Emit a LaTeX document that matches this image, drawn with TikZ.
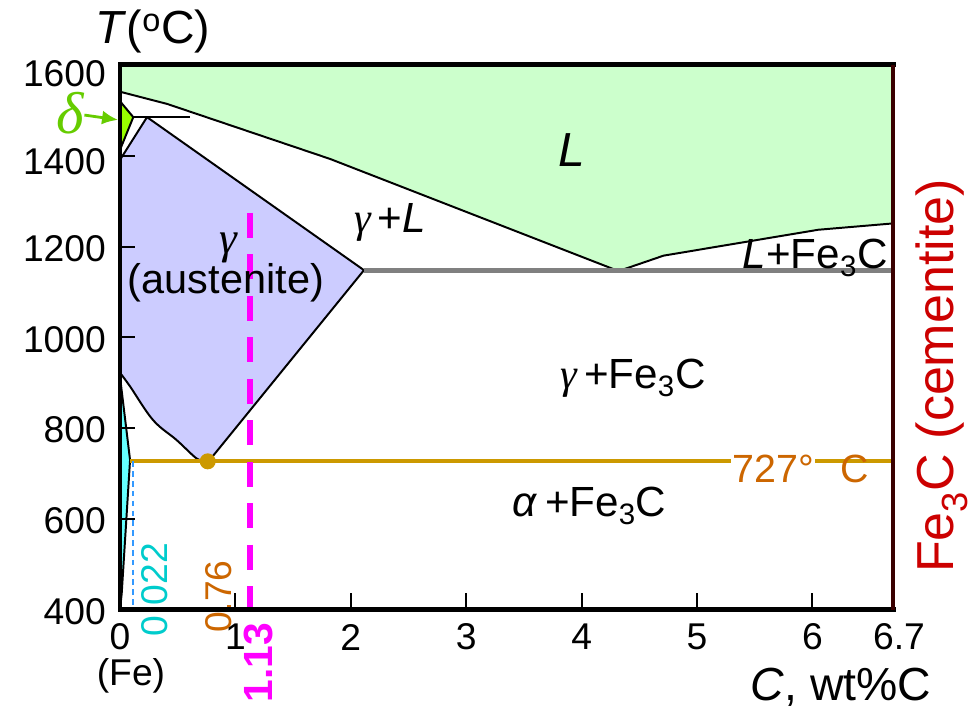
\documentclass[tikz,border=0pt]{standalone}
\usepackage{fontspec}
\setmainfont{Liberation Sans}
\newfontfamily\grk{Liberation Serif}
\usepackage{tikz}
\usetikzlibrary{arrows.meta}
\definecolor{liquid}{HTML}{CCFFCC}
\definecolor{austen}{HTML}{CCCCFF}
\definecolor{deltafill}{HTML}{99FF00}
\definecolor{deltagreen}{HTML}{66CC00}
\definecolor{ferrite}{HTML}{66FFFF}
\definecolor{gold}{HTML}{CC9900}
\definecolor{rust}{HTML}{CC6600}
\definecolor{magent}{HTML}{FF00FF}
\definecolor{cyanlab}{HTML}{00CCCC}
\definecolor{dashblue}{HTML}{3399FF}
\definecolor{cemred}{HTML}{CC0000}
\definecolor{cemline}{HTML}{3A0000}
\definecolor{eutgray}{HTML}{808080}
\newcommand{\FeC}{Fe\textsubscript{3}C}
\newcommand{\gam}{{\grk\itshape γ}}

\begin{document}
\begin{tikzpicture}[x=2.885cm, y=0.011355cm,
  phase/.style={draw=black, line width=1.4pt, line join=round},
  ticklabel/.style={font=\fontsize{26.5}{31}\selectfont, inner sep=0pt},
  region/.style={font=\fontsize{30}{34}\selectfont, inner sep=0pt},
  bigregion/.style={font=\fontsize{34}{38}\selectfont, inner sep=0pt},
  axislabel/.style={font=\fontsize{33}{38}\selectfont, inner sep=0pt},
  axistick/.style={line width=1.4pt},
  frame/.style={line width=3.5pt, line cap=rect},
  arrow/.style={-{Latex[length=4mm, width=3.5mm]}, line width=2pt, draw=deltagreen}
]
\useasboundingbox (-1.040,182) rectangle (7.435,1743);

% phase fields
\fill[liquid] (0,1600) -- (6.7,1600) -- (6.7,1251) -- (6.05,1237) -- (4.71,1180)
  -- (4.32,1146) -- (1.82,1393) -- (0.41,1514) -- (0,1541) -- cycle;
\draw[phase] (0,1541) -- (0.41,1514) -- (1.82,1393) -- (4.32,1146) -- (4.71,1180)
  -- (6.05,1237) -- (6.7,1251);
\filldraw[phase, fill=austen] (0.234,1485) -- (2.114,1148) -- (0.79,734)
  -- plot[smooth, tension=0.6] coordinates {(0.72,730) (0.66,734) (0.49,774) (0.286,818) (0.087,892) (0,922)}
  -- (0,1391) -- cycle;
\filldraw[phase, fill=deltafill] (0,1520) -- (0.115,1485) -- (0,1413) -- cycle;
\draw[phase] (0.115,1485) -- (0.61,1485);
\filldraw[phase, fill=ferrite] (0,913) -- (0.087,730) -- (0.015,437) -- (0,400);

% invariant lines
\draw[line width=3.5pt, eutgray] (2.114,1148) -- (6.7,1148);
\draw[line width=2.8pt, gold] (0.087,727) -- (6.7,727);
\fill[gold] (0.76,727) circle (5.7pt);
\draw[dashblue, line width=1.3pt, dash pattern=on 4pt off 3pt] (0.115,727) -- (0.115,400);
\draw[magent, line width=4.25pt, dash pattern=on 17.7pt off 11.8pt] (1.13,1274) -- (1.13,400);

% labels
\node[region] (gamlab) at (0.936,1197) {\fontsize{32}{36}\selectfont\gam};
\node[region, font=\fontsize{29.5}{34}\selectfont] (auslab) at (0.918,1120) {(austenite)};
\node[region] (gLlab) at (2.34,1254) {\gam\,+\textit{L}};
\node[bigregion] (liqlab) at (3.917,1413) {\textit{L}};
\node[region, anchor=east] (LFelab) at (6.655,1175) {\textit{L}+\FeC};
\node[region] (gFelab) at (4.445,911) {\gam\,+\FeC};
\node[region] (aFelab) at (4.07,629) {\textit{α}\,+\FeC};
\node[region, font=\fontsize{28}{32}\selectfont, text=rust, fill=white, inner sep=1pt] (eutlab) at (5.66,710) {727°};
\node[region, font=\fontsize{28}{32}\selectfont, text=rust] (eutC) at (6.37,710) {C};
\node[axislabel, font=\fontsize{37}{42}\selectfont, text=cemred, rotate=90] (cemlab) at (7.12,915) {\FeC\ (cementite)};
\node[ticklabel, text=cyanlab, rotate=90] (c022) at (0.303,444) {0.022};
\node[ticklabel, text=rust, rotate=90] (c076) at (0.858,429) {0.76};
\node[ticklabel, text=magent, rotate=90, font=\fontsize{29}{33}\selectfont\bfseries] (c113) at (1.196,283) {1.13};
\node[inner sep=0pt, text=deltagreen, font=\fontsize{42}{46}\selectfont\grk\itshape] (dlab) at (-0.43,1494) {δ};
\coordinate (dtip) at (-0.017,1479);
\draw[arrow] (dlab) -- (dtip);

% frame and axes
\draw[frame] (6.7,1600) -- (0,1600) -- (0,400) -- (6.7,400);
\draw[line width=3pt, cemline] (6.7,400) -- (6.7,1600);
\foreach \t in {600,800,...,1400}
  \draw[axistick] (0,\t) -- ++(0.375cm,0);
\foreach \c in {1,...,6}
  \draw[axistick] (\c,400) -- ++(0,0.42cm);
\foreach \t/\p in {1600/1580,1400/1386,1200/1196,1000/996,800/796,600/596,400/397}
  \node[ticklabel, anchor=east] (y\t) at (-0.12,\p) {\t};
\foreach \c in {0,...,6}
  \node[ticklabel] (x\c) at (\c,340) {\c};
\node[ticklabel] (x67) at (6.75,340) {6.7};
\node[ticklabel] (felab) at (0.095,255) {(Fe)};
\node[axislabel] (Tlab) at (0.286,1673) {\textit{T}(\textsuperscript{o}C)};
\node[axislabel] (Clab) at (6.248,230) {\textit{C}, wt\%C};
\end{tikzpicture}
\end{document}
